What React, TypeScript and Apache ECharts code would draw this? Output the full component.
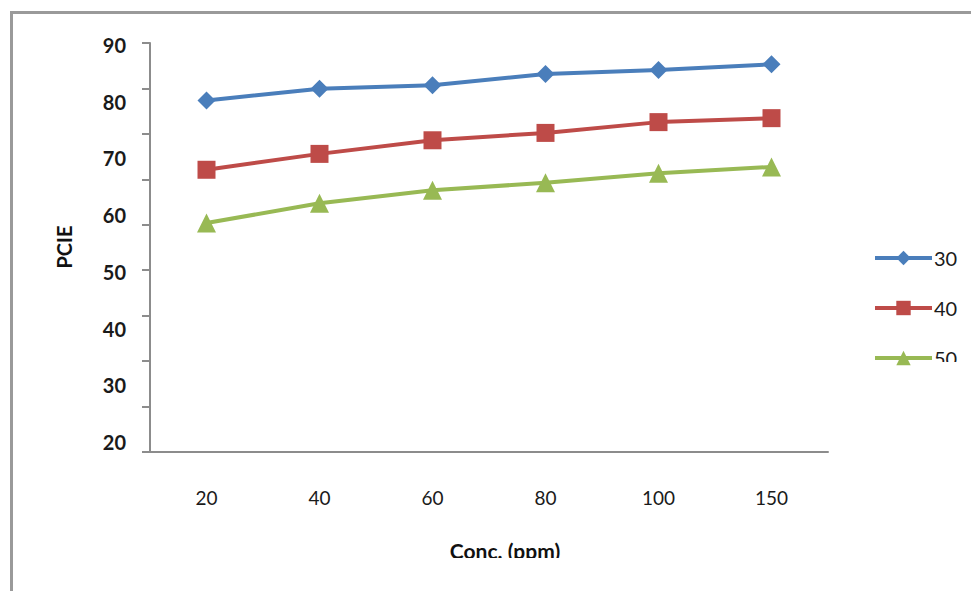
import React, { useEffect, useRef } from "react";
import * as echarts from "echarts";

// Concentration categories (ppm)
const concentrations = ["20", "40", "60", "80", "100", "150"];

// PCIE values per temperature series
const series30 = [80.2, 82.3, 82.9, 84.9, 85.6, 86.6];
const series40 = [68.0, 70.8, 73.2, 74.5, 76.4, 77.1];
const series50 = [58.6, 62.1, 64.4, 65.7, 67.4, 68.5];

const seriesNames = ["30", "40", "50"];
const yLabelValues = [20, 30, 40, 50, 60, 70, 80, 90];

const COLORS = ["#4A7EBB", "#BE4B48", "#98B954"];
const FONT = "Lato, 'Noto Sans', sans-serif";

export default function App() {
  const ref = useRef<HTMLDivElement>(null);

  useEffect(() => {
    if (!ref.current) return;
    const chart = echarts.init(ref.current, undefined, { renderer: "svg" });

    const makeSeries = (name: string, data: number[], symbol: string, size: number, idx: number) => ({
      name,
      type: "line",
      data,
      yAxisIndex: 0,
      symbol,
      symbolSize: size,
      smooth: false,
      lineStyle: { color: COLORS[idx], width: 4 },
      itemStyle: { color: COLORS[idx] },
      emphasis: { disabled: true },
    });

    chart.setOption({
      animation: false,
      backgroundColor: "#ffffff",
      grid: { left: 150, right: 143, top: 43, bottom: 139, containLabel: false },
      legend: {
        orient: "vertical",
        left: 868,
        top: 243,
        itemWidth: 57,
        itemHeight: 18,
        itemGap: 30,
        data: seriesNames,
        lineStyle: { width: 4 },
        textStyle: { fontFamily: FONT, fontSize: 20, color: "#1a1a1a", padding: [0, 0, 0, -3] },
        selectedMode: false,
      },
      xAxis: {
        type: "category",
        data: concentrations,
        boundaryGap: true,
        axisLine: { show: true, lineStyle: { color: "#8c8c8c", width: 2 } },
        axisTick: { show: false },
        axisLabel: { fontFamily: FONT, fontSize: 19, color: "#1a1a1a", margin: 36 },
        splitLine: { show: false },
      },
      yAxis: [
        {
          type: "value",
          min: 18.24,
          max: 90.35,
          axisLine: { show: false },
          axisTick: { show: false },
          splitLine: { show: false },
          axisLabel: {
            customValues: yLabelValues,
            fontFamily: FONT,
            fontWeight: "bold",
            fontSize: 20,
            color: "#1a1a1a",
            margin: 24,
          },
        },
        {
          type: "value",
          position: "left",
          min: 0,
          max: 90,
          interval: 10,
          axisLine: { show: true, lineStyle: { color: "#8c8c8c", width: 2 } },
          axisTick: { show: true, length: 8, inside: false, lineStyle: { color: "#8c8c8c", width: 2 } },
          axisLabel: { show: false },
          splitLine: { show: false },
        },
      ],
      series: [
        makeSeries(seriesNames[0], series30, "diamond", 18, 0),
        makeSeries(seriesNames[1], series40, "rect", 18, 1),
        makeSeries(seriesNames[2], series50, "triangle", 19, 2),
      ],
      graphic: [
        {
          type: "rect",
          shape: { x: 11.5, y: 12.5, width: 1200, height: 1200 },
          style: { fill: "none", stroke: "#9a9a9a", lineWidth: 3 },
          silent: true,
          z: 10,
        },
        {
          type: "text",
          x: 64,
          y: 247,
          rotation: Math.PI / 2,
          style: {
            text: "PCIE",
            fontFamily: FONT,
            fontWeight: "bold",
            fontSize: 20,
            fill: "#111111",
            align: "center",
            verticalAlign: "middle",
          },
          z: 10,
        },
        {
          type: "text",
          x: 505,
          y: 550,
          style: {
            text: "Conc. (ppm)",
            fontFamily: FONT,
            fontWeight: "bold",
            fontSize: 21,
            fill: "#111111",
            align: "center",
            verticalAlign: "middle",
          },
          z: 10,
        },
        // white masks that trim the bottom of the axis title and the last legend entry
        {
          type: "rect",
          shape: { x: 400, y: 558, width: 220, height: 25 },
          style: { fill: "#ffffff" },
          silent: true,
          z: 20,
        },
        {
          type: "rect",
          shape: { x: 928, y: 362, width: 43, height: 25 },
          style: { fill: "#ffffff" },
          silent: true,
          z: 20,
        },
      ],
    });

    return () => chart.dispose();
  }, []);

  return (
    <div
      ref={ref}
      style={{ position: "fixed", left: 0, top: 0, width: 971, height: 591, background: "#fff" }}
    />
  );
}
